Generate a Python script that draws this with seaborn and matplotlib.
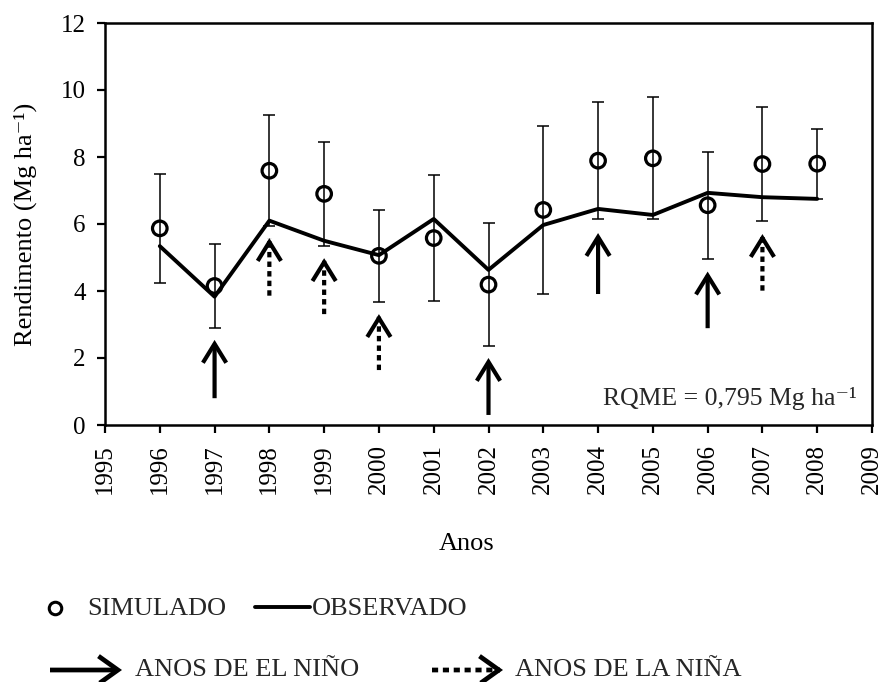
import matplotlib
matplotlib.use("Agg")
import matplotlib.pyplot as plt
from matplotlib.lines import Line2D
from matplotlib.patches import FancyArrowPatch
import seaborn as sns
import pandas as pd

# ---------------- data ----------------
years = [1996, 1997, 1998, 1999, 2000, 2001, 2002, 2003, 2004, 2005, 2006, 2007, 2008]
simulado = [5.87, 4.15, 7.59, 6.90, 5.05, 5.58, 4.19, 6.42, 7.89, 7.96, 6.56, 7.79, 7.80]
observado = [5.34, 3.83, 6.10, 5.50, 5.07, 6.15, 4.63, 5.97, 6.45, 6.27, 6.93, 6.80, 6.75]
erro = [1.62, 1.26, 1.66, 1.55, 1.38, 1.87, 1.84, 2.50, 1.75, 1.82, 1.60, 1.70, 1.04]

nino_years = [1997, 2002, 2004, 2006]
nino_tip = [2.54, 2.00, 5.73, 4.58]
nino_tail = [0.80, 0.30, 3.91, 2.89]

nina_years = [1998, 1999, 2000, 2007]
nina_tip = [5.58, 4.98, 3.31, 5.70]
nina_tail = [3.86, 3.31, 1.64, 4.01]

x_ticks = list(range(1995, 2010))
y_ticks = [0, 2, 4, 6, 8, 10, 12]

df = pd.DataFrame({"Ano": years, "Simulado": simulado, "Observado": observado, "Erro": erro})

# ---------------- style ----------------
sns.set_theme(style="ticks")
plt.rcParams["font.family"] = ["Liberation Serif", "DejaVu Serif"]

W, H = 884, 682
fig = plt.figure(figsize=(W / 100, H / 100), dpi=100)
ax = fig.add_axes([105 / W, 1 - 425 / H, (872 - 105) / W, (425 - 23) / H])

LW_ARROW = 3.0
HEAD = "->, head_length=0.68, head_width=0.42"

# error bars
ax.errorbar(df["Ano"], df["Simulado"], yerr=df["Erro"], fmt="none",
            ecolor="black", elinewidth=1.1, capsize=4.5, capthick=1.1, zorder=2)
# observed line
sns.lineplot(data=df, x="Ano", y="Observado", ax=ax, color="black", lw=2.8, zorder=3)
# simulated points
sns.scatterplot(data=df, x="Ano", y="Simulado", ax=ax, marker="o", s=110,
                facecolors="none", edgecolor="black", linewidth=2.3, zorder=4)

# El Niño arrows (solid)
for xv, tip, tail in zip(nino_years, nino_tip, nino_tail):
    ax.annotate("", xy=(xv, tip), xytext=(xv, tail),
                arrowprops=dict(arrowstyle=HEAD, lw=LW_ARROW, color="black",
                                shrinkA=0, shrinkB=0, mutation_scale=20,
                                joinstyle="miter", capstyle="butt"))
# La Niña arrows (dotted shaft, solid head)
for xv, tip, tail in zip(nina_years, nina_tip, nina_tail):
    ax.annotate("", xy=(xv, tip), xytext=(xv, tail),
                arrowprops=dict(arrowstyle="-", lw=LW_ARROW, color="black",
                                linestyle=(0, (1.3, 1.0)),
                                shrinkA=0, shrinkB=0, capstyle="butt"))
    ax.annotate("", xy=(xv, tip), xytext=(0, -5), textcoords="offset points",
                xycoords="data",
                arrowprops=dict(arrowstyle=HEAD, lw=LW_ARROW, color="black",
                                shrinkA=0, shrinkB=0, mutation_scale=20,
                                joinstyle="miter", capstyle="butt"))

ax.text(0.980, 0.05, "RQME = 0,795 Mg ha⁻¹", transform=ax.transAxes,
        ha="right", va="baseline", fontsize=18.5)

ax.set_xlim(1995, 2009)
ax.set_ylim(0, 12)
ax.set_xticks(x_ticks)
ax.set_xticklabels([str(v) for v in x_ticks], rotation=90)
ax.set_yticks(y_ticks)
ax.tick_params(axis="both", direction="out", length=6, width=1.6,
               labelsize=18, color="black", labelcolor="black", pad=8)
for s in ax.spines.values():
    s.set_linewidth(1.8)
    s.set_color("black")

ax.set_xlabel("Anos", fontsize=19, color="black")
ax.xaxis.set_label_coords((467 - 105) / 767, (425 - 544) / 402)
ax.xaxis.label.set_va("center")
ax.set_ylabel("Rendimento (Mg ha⁻¹)", fontsize=19, color="black")
ax.yaxis.set_label_coords((25 - 105) / 767, 0.5)
ax.yaxis.label.set_va("center")

# ---------------- legend (drawn in figure pixels) ----------------
def fx(px):
    return px / W


def fy(py):
    return 1 - py / H


LEG_FS = 19
fig.add_artist(Line2D([fx(55)], [fy(608)], marker="o", ms=9, mew=2.2,
                      mfc="none", mec="black", ls="none", transform=fig.transFigure))
fig.text(fx(87), fy(609), "SIMULADO", fontsize=LEG_FS, ha="left", va="center")
fig.add_artist(Line2D([fx(255), fx(310)], [fy(607), fy(607)], color="black", lw=2.8,
                      transform=fig.transFigure))
fig.text(fx(312), fy(609), "OBSERVADO", fontsize=LEG_FS, ha="left", va="center")

LEG_HEAD = "->, head_length=0.7, head_width=0.5"
fig.add_artist(FancyArrowPatch(
    (fx(50), fy(670)), (fx(122), fy(670)), transform=fig.transFigure,
    arrowstyle=LEG_HEAD, lw=3.4, color="black", mutation_scale=20,
    shrinkA=0, shrinkB=0, joinstyle="miter", capstyle="butt"))
fig.text(fx(135), fy(670), "ANOS DE EL NIÑO", fontsize=LEG_FS, ha="left", va="center")

fig.add_artist(FancyArrowPatch(
    (fx(432), fy(670)), (fx(500), fy(670)), transform=fig.transFigure,
    arrowstyle="-", lw=3.4, color="black", linestyle=(0, (1.3, 1.0)),
    shrinkA=0, shrinkB=0, capstyle="butt"))
fig.add_artist(FancyArrowPatch(
    (fx(496), fy(670)), (fx(503), fy(670)), transform=fig.transFigure,
    arrowstyle=LEG_HEAD, lw=3.4, color="black", mutation_scale=20,
    shrinkA=0, shrinkB=0, joinstyle="miter", capstyle="butt"))
fig.text(fx(515), fy(670), "ANOS DE LA NIÑA", fontsize=LEG_FS, ha="left", va="center")

fig.savefig("out.png", dpi=100)
